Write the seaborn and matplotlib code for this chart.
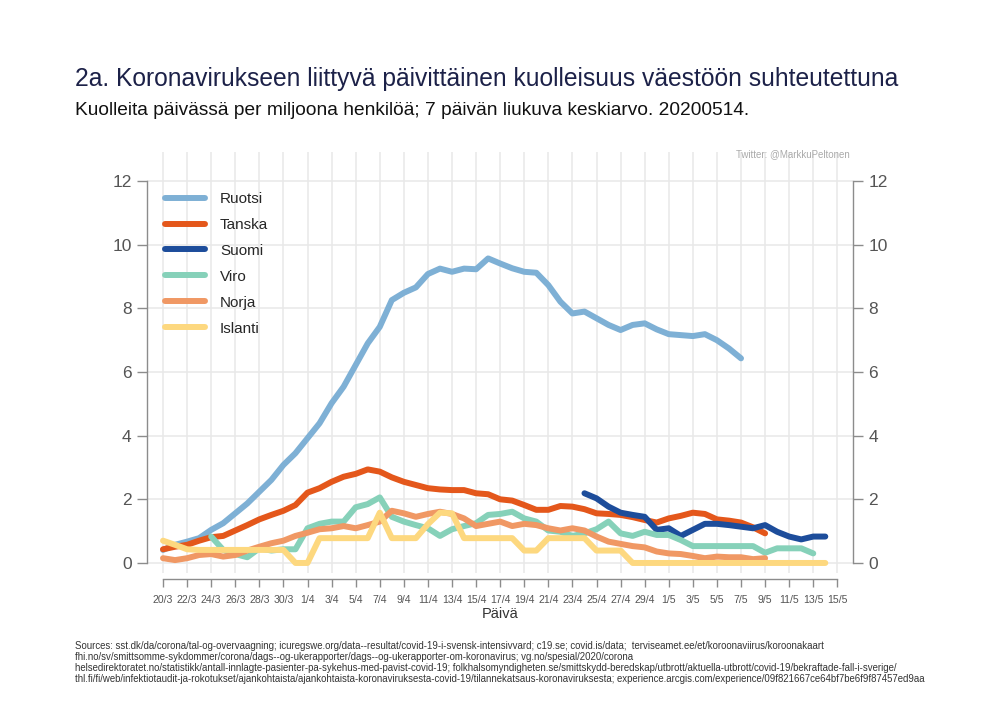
"""Koronavirus: daily deaths per million, 7-day moving average (Nordic countries)."""

import matplotlib
matplotlib.use("Agg")
import matplotlib.pyplot as plt
import pandas as pd
import seaborn as sns

# day index 0 = 20/3/2020
TICK_DAYS = list(range(0, 57, 2))
TICK_LABELS = [
    "20/3", "22/3", "24/3", "26/3", "28/3", "30/3", "1/4", "3/4", "5/4", "7/4",
    "9/4", "11/4", "13/4", "15/4", "17/4", "19/4", "21/4", "23/4", "25/4", "27/4",
    "29/4", "1/5", "3/5", "5/5", "7/5", "9/5", "11/5", "13/5", "15/5",
]

COUNTRIES = ["Ruotsi", "Tanska", "Suomi", "Viro", "Norja", "Islanti"]

# first day index of each series
START_DAY = {"Ruotsi": 0, "Tanska": 0, "Suomi": 35, "Viro": 4, "Norja": 0, "Islanti": 0}

ruotsi = [0.41, 0.57, 0.67, 0.78, 1.04, 1.25, 1.56, 1.87, 2.24, 2.61,
          3.08, 3.45, 3.92, 4.39, 5.02, 5.54, 6.22, 6.90, 7.42, 8.26,
          8.49, 8.66, 9.08, 9.25, 9.15, 9.25, 9.23, 9.57, 9.41, 9.26,
          9.15, 9.12, 8.73, 8.21, 7.84, 7.90, 7.69, 7.48, 7.32, 7.48,
          7.53, 7.34, 7.19, 7.16, 7.13, 7.19, 7.00, 6.74, 6.43]
tanska = [0.43, 0.51, 0.57, 0.70, 0.81, 0.85, 1.02, 1.19, 1.37, 1.51,
          1.64, 1.82, 2.21, 2.35, 2.55, 2.71, 2.80, 2.94, 2.87, 2.69,
          2.55, 2.45, 2.35, 2.31, 2.29, 2.29, 2.19, 2.16, 2.00, 1.96,
          1.82, 1.67, 1.67, 1.79, 1.77, 1.69, 1.56, 1.54, 1.51, 1.44,
          1.35, 1.27, 1.40, 1.48, 1.58, 1.54, 1.37, 1.33, 1.27, 1.12,
          0.93]
suomi = [2.19, 2.03, 1.77, 1.58, 1.51, 1.45, 1.04, 1.09, 0.85, 1.04,
         1.23, 1.23, 1.19, 1.14, 1.09, 1.19, 0.98, 0.83, 0.74, 0.83,
         0.83]
viro = [0.83, 0.41, 0.28, 0.18, 0.46, 0.39, 0.43, 0.43, 1.09, 1.23,
        1.30, 1.30, 1.75, 1.85, 2.06, 1.45, 1.30, 1.19, 1.09, 0.85,
        1.06, 1.16, 1.25, 1.51, 1.54, 1.61, 1.40, 1.30, 1.02, 0.98,
        0.85, 0.93, 1.06, 1.30, 0.93, 0.85, 0.98, 0.88, 0.88, 0.72,
        0.53, 0.53, 0.53, 0.53, 0.53, 0.53, 0.32, 0.46, 0.46, 0.46,
        0.30]
norja = [0.15, 0.09, 0.15, 0.25, 0.28, 0.20, 0.25, 0.39, 0.51, 0.62,
         0.70, 0.85, 0.95, 1.06, 1.09, 1.16, 1.09, 1.19, 1.30, 1.64,
         1.56, 1.45, 1.54, 1.61, 1.54, 1.40, 1.16, 1.23, 1.30, 1.16,
         1.23, 1.19, 1.09, 1.02, 1.09, 1.02, 0.83, 0.67, 0.60, 0.53,
         0.49, 0.36, 0.30, 0.28, 0.22, 0.15, 0.20, 0.18, 0.18, 0.12,
         0.15]
islanti = [0.70, 0.57, 0.43, 0.41, 0.41, 0.41, 0.41, 0.41, 0.41, 0.41,
           0.41, 0.00, 0.00, 0.78, 0.78, 0.78, 0.78, 0.78, 1.58, 0.78,
           0.78, 0.78, 1.22, 1.58, 1.56, 0.78, 0.78, 0.78, 0.78, 0.78,
           0.39, 0.39, 0.78, 0.78, 0.78, 0.78, 0.39, 0.39, 0.39, 0.00,
           0.00, 0.00, 0.00, 0.00, 0.00, 0.00, 0.00, 0.00, 0.00, 0.00,
           0.00, 0.00, 0.00, 0.00, 0.00, 0.00]

SERIES = {"Ruotsi": ruotsi, "Tanska": tanska, "Suomi": suomi,
          "Viro": viro, "Norja": norja, "Islanti": islanti}

COLORS = {
    "Ruotsi": "#7eb0d5",
    "Tanska": "#e4571b",
    "Suomi": "#1d4d9b",
    "Viro": "#86d1b9",
    "Norja": "#f09864",
    "Islanti": "#fdd87f",
}

SOURCES = (
    "Sources: sst.dk/da/corona/tal-og-overvaagning; icuregswe.org/data--resultat/covid-19-i-svensk-intensivvard; "
    "c19.se; covid.is/data;  terviseamet.ee/et/koroonaviirus/koroonakaart\n"
    "fhi.no/sv/smittsomme-sykdommer/corona/dags--og-ukerapporter/dags--og-ukerapporter-om-koronavirus; "
    "vg.no/spesial/2020/corona\n"
    "helsedirektoratet.no/statistikk/antall-innlagte-pasienter-pa-sykehus-med-pavist-covid-19; "
    "folkhalsomyndigheten.se/smittskydd-beredskap/utbrott/aktuella-utbrott/covid-19/bekraftade-fall-i-sverige/\n"
    "thl.fi/fi/web/infektiotaudit-ja-rokotukset/ajankohtaista/ajankohtaista-koronaviruksesta-covid-19/"
    "tilannekatsaus-koronaviruksesta; experience.arcgis.com/experience/09f821667ce64bf7be6f9f87457ed9aa"
)

rows = []
for name in COUNTRIES:
    for i, v in enumerate(SERIES[name]):
        rows.append({"day": START_DAY[name] + i, "value": v, "maa": name})
df = pd.DataFrame(rows)

sns.set_theme(style="white")
plt.rcParams["font.family"] = ["Liberation Sans", "DejaVu Sans"]

fig = plt.figure(figsize=(10, 7.27), dpi=100)
ax = fig.add_axes([0.147, 0.2125, 0.706, 0.5778])

for name in COUNTRIES:
    sub = df[df["maa"] == name]
    sns.lineplot(data=sub, x="day", y="value", color=COLORS[name], lw=4.3,
                 label=name, ax=ax, solid_capstyle="round")

ax.set_xlim(-1.33, 57.3)
ax.set_ylim(-0.3, 12.9)

# grid
for d in TICK_DAYS:
    ax.axvline(d, color="#e8e8e8", lw=1.1, zorder=0)
for y in range(0, 13, 2):
    ax.axhline(y, color="#e8e8e8", lw=1.1, zorder=0)

spine_col = "#8c8c8c"
ax.spines["top"].set_visible(False)
for side in ("left", "right", "bottom"):
    ax.spines[side].set_visible(True)
    ax.spines[side].set_color(spine_col)
    ax.spines[side].set_linewidth(1.0)
ax.spines["left"].set_bounds(0, 12)
ax.spines["right"].set_bounds(0, 12)
ax.spines["bottom"].set_bounds(0, 56)
ax.spines["bottom"].set_position(("outward", 4.7))

ax.set_yticks(range(0, 13, 2))
ax.set_xticks(TICK_DAYS)
ax.set_xticklabels(TICK_LABELS)
ax.tick_params(axis="y", which="both", left=True, right=True, labelleft=True,
               labelright=True, length=7, width=1.0, color=spine_col,
               labelsize=12.5, labelcolor="#555555", pad=4, direction="out")
ax.tick_params(axis="x", bottom=True, length=5.8, width=1.0, color=spine_col,
               labelsize=7.6, labelcolor="#555555", pad=6, direction="out")

ax.set_xlabel("Päivä", fontsize=10.5, color="#333333", labelpad=1)
ax.set_ylabel("")

leg = ax.legend(loc="upper left", bbox_to_anchor=(0.0255, 0.906), frameon=False,
                fontsize=11, handlelength=2.6, handletextpad=1.0,
                labelspacing=0.78, borderpad=0, borderaxespad=0)
for line in leg.get_lines():
    line.set_linewidth(4.3)

fig.text(0.075, 0.8817, "2a. Koronavirukseen liittyvä päivittäinen kuolleisuus väestöön suhteutettuna",
         fontsize=17.7, color="#1c2148", va="baseline")
fig.text(0.075, 0.842, "Kuolleita päivässä per miljoona henkilöä; 7 päivän liukuva keskiarvo. 20200514.",
         fontsize=13.8, color="#111111", va="baseline")
fig.text(0.85, 0.788, "Twitter: @MarkkuPeltonen", fontsize=7, color="#aaaaaa",
         ha="right", va="center")
fig.text(0.075, 0.118, SOURCES, fontsize=6.9, color="#333333", va="top",
         linespacing=1.1)

fig.savefig("out.png", dpi=100, facecolor="white")
